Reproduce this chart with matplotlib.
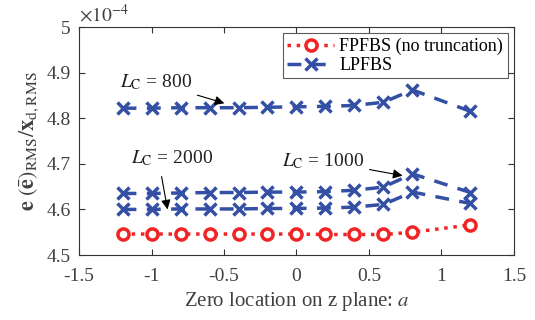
import matplotlib
matplotlib.use("Agg")
import matplotlib.pyplot as plt
from matplotlib.ticker import FuncFormatter

plt.rcParams['font.family'] = ['Liberation Serif', 'DejaVu Serif']
plt.rcParams['mathtext.fontset'] = 'stix'
plt.rcParams['axes.unicode_minus'] = False

# zero location a
a = [-1.2, -1.0, -0.8, -0.6, -0.4, -0.2, 0.0, 0.2, 0.4, 0.6, 0.8, 1.2]

# values in units of 1e-4
fpfbs = [4.546, 4.546, 4.546, 4.546, 4.546, 4.546, 4.546, 4.545, 4.545, 4.545, 4.550, 4.566]
lpfbs_800 = [4.822, 4.822, 4.823, 4.823, 4.823, 4.824, 4.825, 4.826, 4.828, 4.835, 4.862, 4.815]
lpfbs_1000 = [4.635, 4.635, 4.636, 4.637, 4.637, 4.638, 4.638, 4.639, 4.642, 4.649, 4.678, 4.637]
lpfbs_2000 = [4.600, 4.600, 4.601, 4.601, 4.601, 4.602, 4.602, 4.603, 4.605, 4.611, 4.638, 4.613]

red = '#F02424'
blue = '#3450A4'
txt = '#404040'

fig = plt.figure(figsize=(5.35, 3.2), dpi=100)
ax = fig.add_axes([0.1477, 0.2031, 0.813, 0.7125])

ax.plot(a, fpfbs, color=red, linestyle=':', linewidth=2.5, marker='o',
        markersize=8, markerfacecolor='white', markeredgecolor=red,
        markeredgewidth=2.5, label='FPFBS (no truncation)')
ax.plot(a, lpfbs_800, color=blue, linestyle=(0, (4, 3)), linewidth=2.5, marker='x',
        markersize=9, markeredgewidth=2.5, label='LPFBS')
ax.plot(a, lpfbs_1000, color=blue, linestyle=(0, (4, 3)), linewidth=2.5, marker='x',
        markersize=9, markeredgewidth=2.5)
ax.plot(a, lpfbs_2000, color=blue, linestyle=(0, (4, 3)), linewidth=2.5, marker='x',
        markersize=9, markeredgewidth=2.5)

ax.set_xlim(-1.5, 1.5)
ax.set_ylim(4.5, 5.0)
ax.set_xticks([-1.5, -1, -0.5, 0, 0.5, 1, 1.5])
ax.set_yticks([4.5, 4.6, 4.7, 4.8, 4.9, 5.0])
fmt = FuncFormatter(lambda v, p: '%g' % round(v, 3))
ax.xaxis.set_major_formatter(fmt)
ax.yaxis.set_major_formatter(fmt)
ax.tick_params(direction='in', top=True, right=True, labelsize=14, colors='#333333',
               length=4, width=0.8, labelcolor=txt)
ax.tick_params(axis='x', pad=9)
ax.tick_params(axis='y', pad=6)
for s in ax.spines.values():
    s.set_color('#333333')
    s.set_linewidth(0.8)

ax.set_xlabel('Zero location on z plane: $a$', fontsize=15, color=txt, labelpad=4)
ax.set_ylabel(r'$\mathbf{e}\ (\bar{\mathbf{e}})_{\rm RMS}/\mathbf{x}_{\rm d,RMS}$',
              fontsize=16, color=txt, labelpad=4)
ax.text(0.0, 1.005, r'$\times10^{-4}$', transform=ax.transAxes, fontsize=14,
        color=txt, ha='left', va='bottom')

arrow = dict(arrowstyle='-|>', color='black', lw=0.8, mutation_scale=14)
ax.annotate(r'$L_{\rm C}$ = 800', xy=(-0.479, 4.831), xytext=(-1.22, 4.878),
            fontsize=14, arrowprops=arrow, va='center', color='#202020')
ax.annotate('', xy=(-0.886, 4.594), xytext=(-0.934, 4.678), arrowprops=arrow)
ax.text(-1.14, 4.712, r'$L_{\rm C}$ = 2000', fontsize=14, va='center', color='#202020')
ax.annotate(r'$L_{\rm C}$ = 1000', xy=(0.75, 4.673), xytext=(-0.1, 4.706),
            fontsize=14, arrowprops=arrow, va='center', color='#202020')

leg = ax.legend(loc='upper right', fontsize=13, frameon=True, fancybox=False,
                edgecolor='#333333', borderpad=0.25, labelspacing=0.1,
                handlelength=2.6, handletextpad=0.3, borderaxespad=0.35)
leg.get_frame().set_linewidth(0.8)

fig.savefig('out.png', dpi=100)
